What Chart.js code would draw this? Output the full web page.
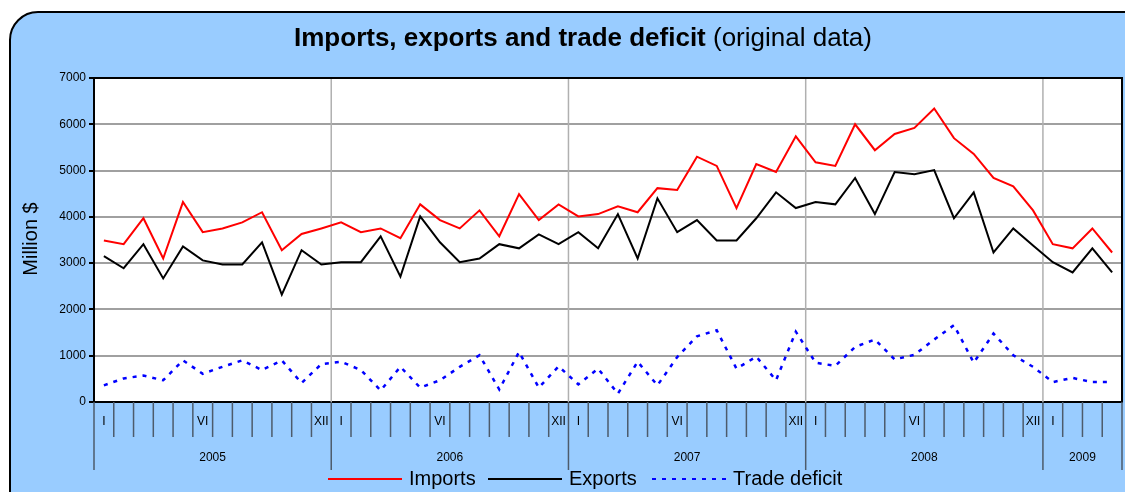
<!DOCTYPE html>
<html><head><meta charset="utf-8">
<script src="https://cdn.jsdelivr.net/npm/chart.js@4/dist/chart.umd.min.js"></script>
<style>html,body{margin:0;padding:0;background:#fff}canvas{display:block}</style>
</head><body>
<canvas id="c" width="1125" height="492"></canvas>
<script>
const years = ['2005','2006','2007','2008','2009'];
const monthsPerYear = [12,12,12,12,4];
const romanMonths = ['I','II','III','IV','V','VI','VII','VIII','IX','X','XI','XII'];
const shownMonthLabels = ['I','VI','XII'];
const yTicks = [0,1000,2000,3000,4000,5000,6000,7000];

const imports = [3490,3410,3970,3100,4320,3670,3750,3880,4100,3280,3630,3750,
                 3880,3670,3750,3540,4270,3930,3750,4140,3580,4490,3930,4270,
                 4010,4060,4230,4100,4620,4580,5300,5100,4190,5140,4970,5740,
                 5180,5100,6000,5440,5790,5920,6340,5700,5360,4840,4660,4140,
                 3410,3320,3750,3230];
const exports = [3150,2890,3410,2670,3360,3060,2970,2970,3450,2320,3280,2970,
                 3020,3020,3580,2710,4010,3450,3020,3100,3410,3320,3620,3410,
                 3670,3320,4060,3100,4400,3670,3930,3490,3490,3970,4530,4190,
                 4320,4270,4840,4060,4970,4920,5010,3970,4530,3230,3750,3380,
                 3020,2800,3320,2800];
const deficit = [360,510,570,470,900,610,760,900,690,900,410,820,
                 870,690,250,760,310,470,760,1010,270,1080,310,770,
                 380,720,180,870,360,970,1420,1550,720,980,470,1520,
                 850,780,1190,1350,920,1020,1350,1660,850,1480,1010,760,
                 430,520,430,430];

// categories built from years / monthsPerYear
const categories = [];
const monthTickLabels = [];
years.forEach((y,yi)=>{ for(let m=0;m<monthsPerYear[yi];m++){ categories.push(y+'-'+romanMonths[m]); monthTickLabels.push(shownMonthLabels.includes(romanMonths[m])?romanMonths[m]:''); } });

const FONT = "'Liberation Sans', Arial, sans-serif";

const deco = {
  id:'deco',
  beforeDraw(chart){
    const ctx=chart.ctx, a=chart.chartArea;
    ctx.save();
    ctx.fillStyle='#fff'; ctx.fillRect(0,0,chart.width,chart.height);
    ctx.beginPath(); ctx.roundRect(10,12,1160,540,28);
    ctx.fillStyle='#99ccff'; ctx.fill();
    ctx.lineWidth=2; ctx.strokeStyle='#000'; ctx.stroke();
    ctx.fillStyle='#fff'; ctx.fillRect(a.left,a.top,a.right-a.left,a.bottom-a.top);
    ctx.restore();
  },
  beforeDatasetsDraw(chart){
    const ctx=chart.ctx, a=chart.chartArea, xs=chart.scales.x;
    const step = xs.getPixelForValue(1)-xs.getPixelForValue(0);
    const bx = k => xs.getPixelForValue(0) - step/2 + k*step;
    ctx.save();
    let k=0;
    ctx.strokeStyle='#b0b0b0'; ctx.lineWidth=1.5;
    monthsPerYear.forEach((n,i)=>{ if(i>0){ ctx.beginPath(); ctx.moveTo(bx(k),a.top); ctx.lineTo(bx(k),a.bottom); ctx.stroke(); } k+=n; });
    ctx.strokeStyle='#4d5b6b'; ctx.lineWidth=1.5;
    const starts=[]; k=0; monthsPerYear.forEach(n=>{starts.push(k);k+=n;}); starts.push(k);
    for(let j=0;j<=categories.length;j++){
      const long = starts.includes(j);
      ctx.beginPath(); ctx.moveTo(bx(j),a.bottom); ctx.lineTo(bx(j),a.bottom+(long?68:35)); ctx.stroke();
    }
    ctx.fillStyle='#000'; ctx.font='12px '+FONT; ctx.textAlign='center'; ctx.textBaseline='middle';
    years.forEach((y,i)=>{ ctx.fillText(y,(bx(starts[i])+bx(starts[i+1]))/2,458); });
    ctx.restore();
  },
  afterDraw(chart){
    const ctx=chart.ctx, a=chart.chartArea;
    ctx.save();
    ctx.strokeStyle='#000'; ctx.lineWidth=2;
    ctx.beginPath(); ctx.moveTo(a.left,a.top); ctx.lineTo(a.right,a.top); ctx.lineTo(a.right,a.bottom); ctx.stroke();
    const t1='Imports, exports and trade deficit', t2=' (original data)';
    ctx.textBaseline='middle'; ctx.fillStyle='#000';
    ctx.font='bold 26px '+FONT; const w1=ctx.measureText(t1).width;
    ctx.font='26px '+FONT; const w2=ctx.measureText(t2).width;
    let x0=583-(w1+w2)/2;
    ctx.textAlign='left';
    ctx.font='bold 26px '+FONT; ctx.fillText(t1,x0,39);
    ctx.font='26px '+FONT; ctx.fillText(t2,x0+w1,39);
    ctx.save(); ctx.translate(31,239); ctx.rotate(-Math.PI/2);
    ctx.textAlign='center'; ctx.font='20px '+FONT; ctx.fillText('Million $',0,0); ctx.restore();
    const items=[{x:328,t:'Imports',ds:0},{x:488,t:'Exports',ds:1},{x:652,t:'Trade deficit',ds:2}];
    ctx.font='20px '+FONT; ctx.textAlign='left';
    items.forEach(it=>{
      const d=chart.data.datasets[it.ds];
      ctx.strokeStyle=d.borderColor; ctx.lineWidth=2;
      ctx.setLineDash(d.borderDash||[]);
      ctx.beginPath(); ctx.moveTo(it.x,479); ctx.lineTo(it.x+74,479); ctx.stroke();
      ctx.setLineDash([]);
      ctx.fillStyle='#000'; ctx.fillText(it.t,it.x+81,479);
    });
    ctx.restore();
  }
};

new Chart(document.getElementById('c'),{
  type:'line',
  data:{labels:categories,datasets:[
    {label:'Imports',data:imports,borderColor:'#ff0000',borderWidth:2,pointRadius:0,tension:0,fill:false},
    {label:'Exports',data:exports,borderColor:'#000000',borderWidth:2,pointRadius:0,tension:0,fill:false},
    {label:'Trade deficit',data:deficit,borderColor:'#0000ff',borderWidth:2.5,borderDash:[4,6],pointRadius:0,tension:0,fill:false}
  ]},
  options:{
    responsive:false, animation:false, devicePixelRatio:1,
    layout:{padding:{left:0,right:3,top:78,bottom:0}},
    plugins:{legend:{display:false},title:{display:false},tooltip:{enabled:false}},
    scales:{
      x:{offset:true,
         grid:{display:false,drawTicks:false},
         border:{display:true,color:'#000',width:2},
         ticks:{autoSkip:false,maxRotation:0,minRotation:0,padding:12,color:'#000',font:{family:FONT,size:12},
                callback:(v,i)=>monthTickLabels[i]},
         afterFit(s){s.height=90;}},
      y:{min:0,max:7000,afterBuildTicks(s){s.ticks=yTicks.map(v=>({value:v}));},
         ticks:{color:'#000',font:{family:FONT,size:12},padding:3,callback:v=>String(v)},
         grid:{color:'#a0a0a0',lineWidth:2,tickLength:5,tickColor:'#000'},
         border:{display:true,color:'#000',width:2},
         afterFit(s){s.width=94;}}
    }
  },
  plugins:[deco]
});
</script>
</body></html>
